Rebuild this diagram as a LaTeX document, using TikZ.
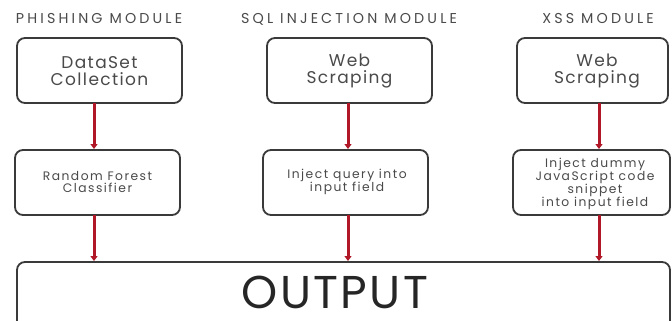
\documentclass[tikz,border=0pt]{standalone}
\usepackage{fontspec}
\setmainfont{Poppins}
\usetikzlibrary{arrows.meta}
\definecolor{inkgray}{HTML}{3A3A3A}
\definecolor{textgray}{HTML}{4A4A4A}
\definecolor{flowred}{HTML}{B01828}
\newfontfamily\titlefont[LetterSpace=22]{Poppins}
\newfontfamily\boxfont[LetterSpace=8]{Poppins}
\newfontfamily\notefont[LetterSpace=12]{Poppins}
\newfontfamily\bigfont[LetterSpace=5]{Poppins}
\tikzset{
  box/.style={draw=inkgray, line width=1.8pt, rounded corners=8pt},
  title/.style={text=textgray, font=\titlefont\fontsize{14.3}{16}\selectfont, inner sep=0pt},
  bigtxt/.style={text=textgray, align=center, font=\boxfont\fontsize{17}{17}\selectfont, inner sep=0pt},
  smalltxt/.style={text=textgray, align=center, font=\notefont\fontsize{12.3}{12.8}\selectfont, inner sep=0pt},
  flow/.style={draw=flowred, line width=3pt, -{Triangle[width=7pt,length=5pt]}, shorten >=1pt}
}
\begin{document}
\begin{tikzpicture}[x=1pt,y=-1pt]
  \useasboundingbox (0,0) rectangle (672,321);
  \clip (0,0) rectangle (672,321);
  \fill[white] (0,0) rectangle (672,321);

  % column titles
  \node[title] (t1) at (99,19) {PHISHING MODULE};
  \node[title] (t2) at (349,19) {SQL INJECTION MODULE};
  \node[title] (t3) at (598,19) {XSS MODULE};

  % first row of boxes
  \draw[box] (17,38) rectangle (182,103);
  \coordinate (a1) at (94,103);
  \node[bigtxt] (b1) at (99.5,71) {DataSet\\Collection};
  \draw[box] (267,38) rectangle (432,103);
  \coordinate (a2) at (348,103);
  \node[bigtxt] (b2) at (349.5,71) {Web\\Scraping};
  \draw[box] (517,38) rectangle (668,103);
  \coordinate (a3) at (599,103);
  \node[bigtxt] (b3) at (597,71) {Web\\Scraping};

  % second row of boxes
  \draw[box] (15,150) rectangle (180,215);
  \coordinate (m1t) at (94,150);
  \coordinate (m1b) at (94,215);
  \node[smalltxt] (c1) at (97.5,182) {Random Forest\\Classifier};
  \draw[box] (263,150) rectangle (428,215);
  \coordinate (m2t) at (348,150);
  \coordinate (m2b) at (348,215);
  \node[smalltxt] (c2) at (347,182) {Inject query into\\input field};
  \draw[box] (513,150) rectangle (670,215);
  \coordinate (m3t) at (599,150);
  \coordinate (m3b) at (599,215);
  \node[smalltxt] (c3) at (595,184) {Inject dummy\\JavaScript code\\snippet\\into input field};

  % output box
  \draw[box] (17,262) rectangle (670,340);
  \coordinate (o1) at (94,262);
  \coordinate (o2) at (348,262);
  \coordinate (o3) at (599,262);
  \node[text=black!85, font=\bigfont\fontsize{46}{50}\selectfont, inner sep=0pt,
        text depth=0pt, anchor=base] (out) at (335,308) {OUTPUT};

  % flow arrows
  \draw[flow] (a1) -- (m1t);
  \draw[flow] (a2) -- (m2t);
  \draw[flow] (a3) -- (m3t);
  \draw[flow] (m1b) -- (o1);
  \draw[flow] (m2b) -- (o2);
  \draw[flow] (m3b) -- (o3);
\end{tikzpicture}
\end{document}
